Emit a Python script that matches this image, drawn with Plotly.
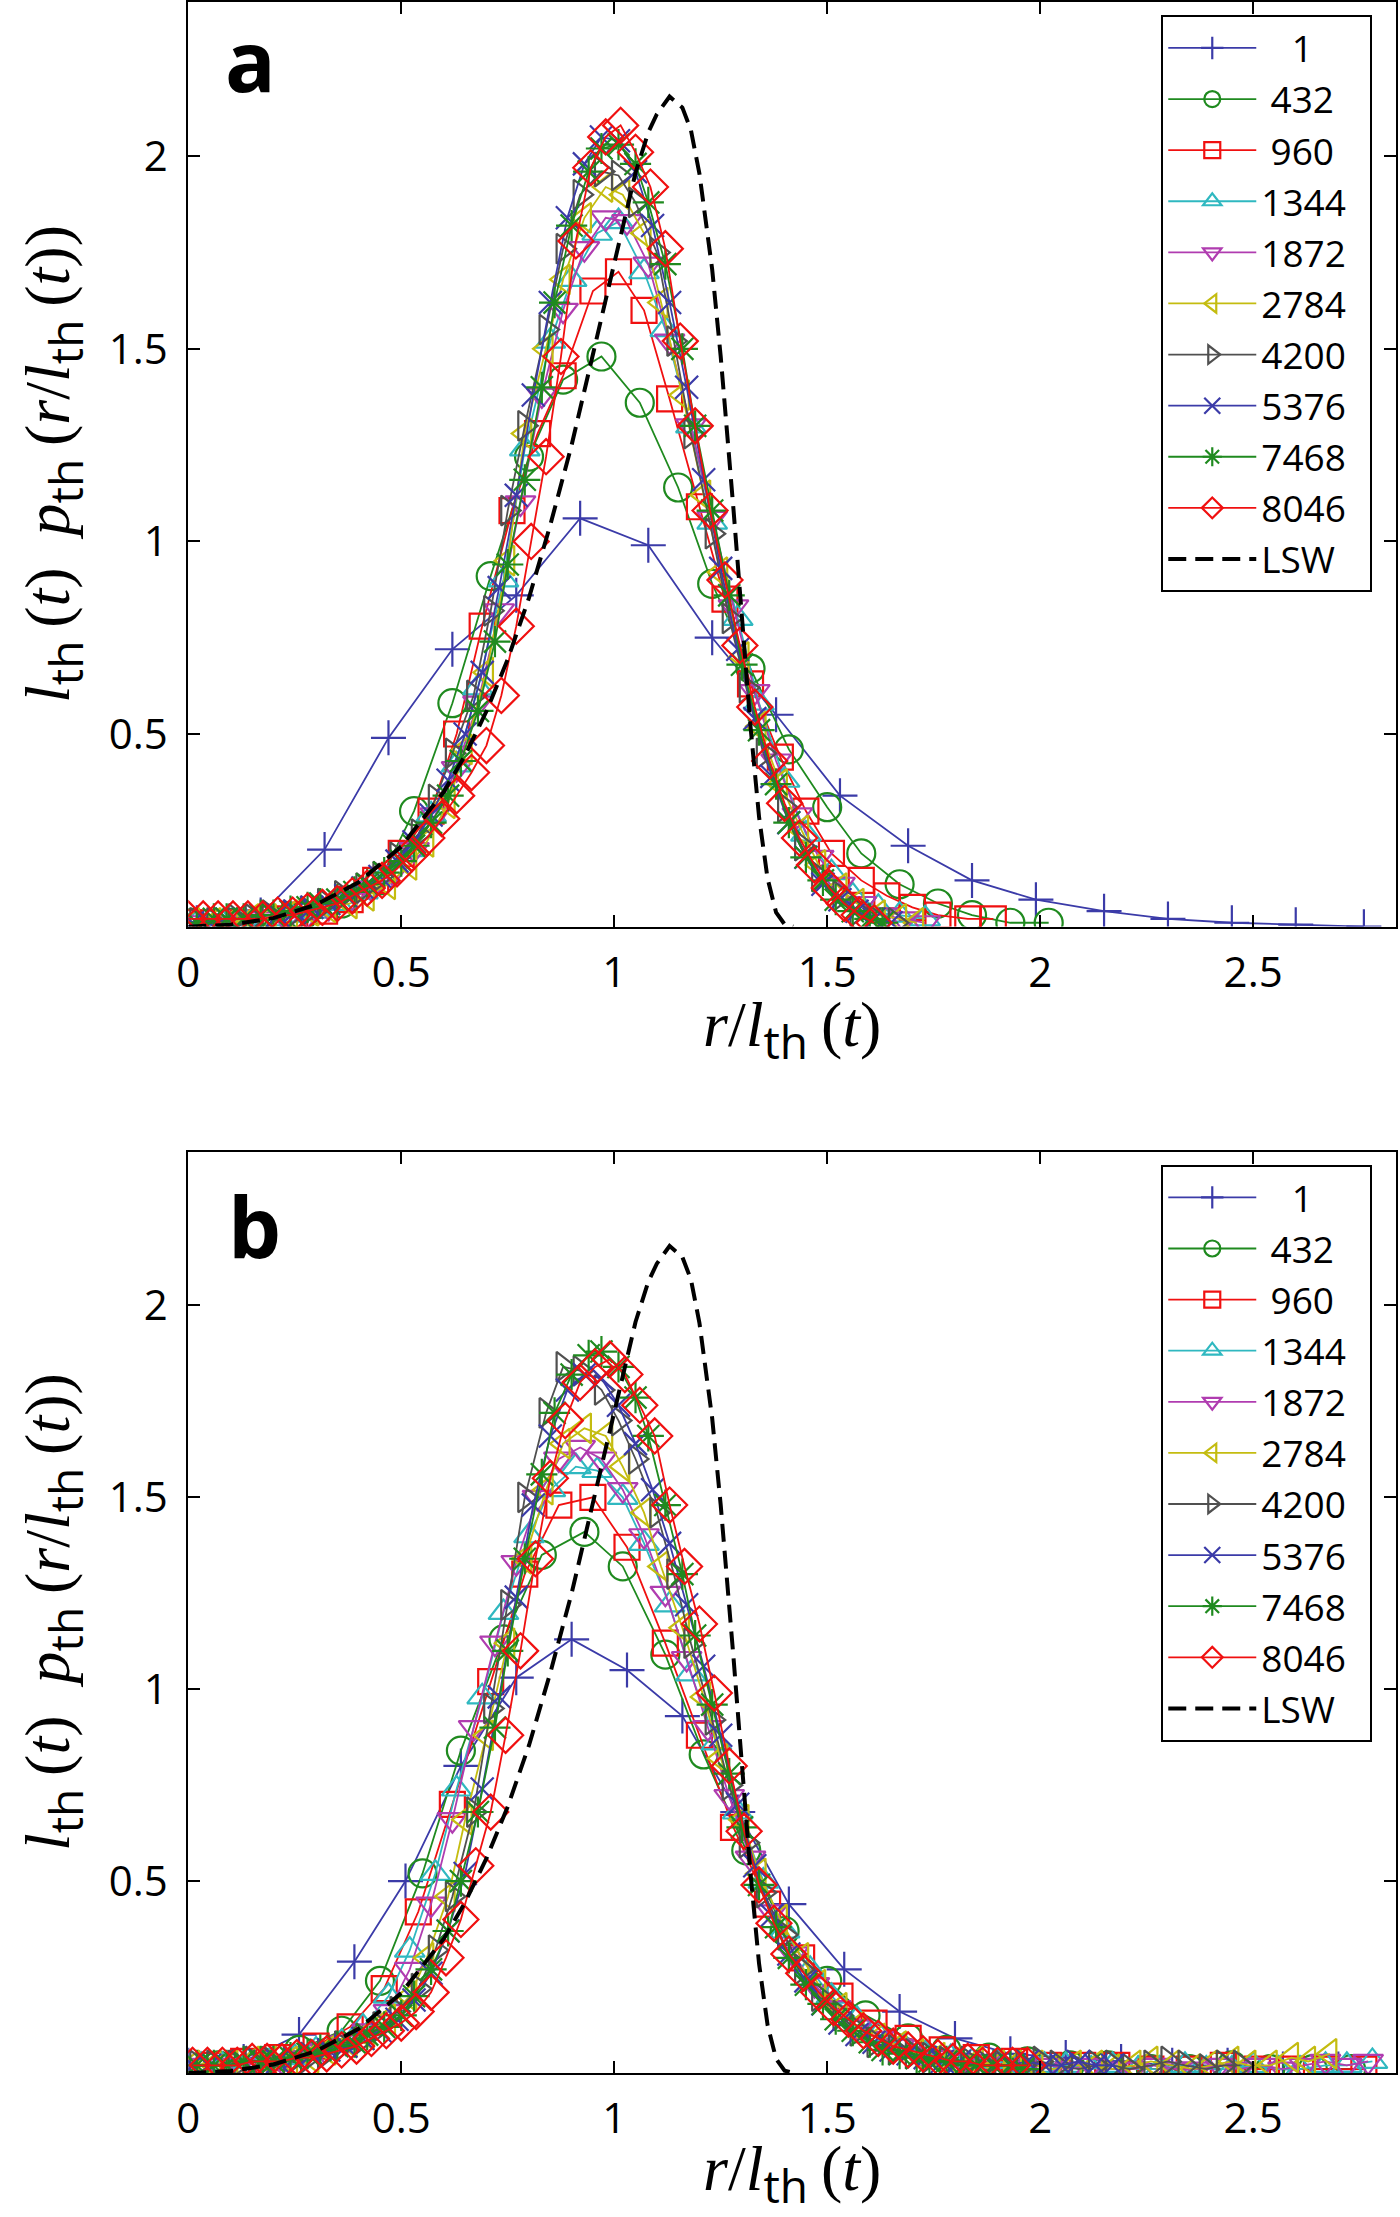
import plotly.graph_objects as go

# ---- data ----
SERIES = ["1", "432", "960", "1344", "1872", "2784", "4200", "5376", "7468", "8046"]

X_TICKS = [0, 0.5, 1, 1.5, 2, 2.5]
Y_TICKS = [0.5, 1, 1.5, 2]

# panel a
A1_X = [0.02, 0.17, 0.32, 0.47, 0.62, 0.77, 0.92, 1.08, 1.23, 1.38, 1.53, 1.69, 1.84, 1.99, 2.15, 2.30, 2.45, 2.60, 2.76]
A1_Y = [0.01, 0.03, 0.20, 0.49, 0.72, 0.86, 1.06, 0.99, 0.75, 0.55, 0.34, 0.21, 0.12, 0.07, 0.04, 0.02, 0.01, 0.005, 0.0]

A432_X = [0.01, 0.10, 0.19, 0.27, 0.36, 0.45, 0.53, 0.62, 0.71, 0.80, 0.88, 0.97, 1.06, 1.15, 1.23, 1.32, 1.41, 1.50, 1.58, 1.67,
          1.76, 1.84, 1.93, 2.02]
A432_Y = [0.01, 0.01, 0.02, 0.03, 0.06, 0.12, 0.30, 0.58, 0.91, 1.22, 1.42, 1.48, 1.36, 1.14, 0.89, 0.67, 0.46, 0.31, 0.19, 0.11,
          0.06, 0.03, 0.01, 0.01]

A960_X = [0.00, 0.06, 0.13, 0.19, 0.25, 0.32, 0.38, 0.44, 0.50, 0.57, 0.63, 0.69, 0.76, 0.82, 0.88, 0.95, 1.01, 1.07, 1.13, 1.20,
          1.26, 1.32, 1.39, 1.45, 1.51, 1.58, 1.64, 1.70, 1.76, 1.83, 1.89]
A960_Y = [0.01, 0.01, 0.01, 0.02, 0.03, 0.04, 0.07, 0.12, 0.19, 0.30, 0.50, 0.78, 1.08, 1.28, 1.43, 1.65, 1.70, 1.60, 1.37, 1.09,
          0.85, 0.63, 0.44, 0.30, 0.19, 0.12, 0.08, 0.05, 0.03, 0.02, 0.02]

A1344_X = [0.02, 0.08, 0.13, 0.19, 0.24, 0.30, 0.35, 0.41, 0.46, 0.52, 0.57, 0.63, 0.68, 0.74, 0.79, 0.85, 0.90, 0.96, 1.01, 1.07,
           1.12, 1.18, 1.23, 1.29, 1.34, 1.40, 1.45, 1.51, 1.56, 1.62, 1.67, 1.73]
A1344_Y = [0.01, 0.01, 0.02, 0.02, 0.03, 0.04, 0.06, 0.09, 0.13, 0.20, 0.29, 0.42, 0.62, 0.90, 1.24, 1.52, 1.68, 1.80, 1.83, 1.70,
           1.55, 1.30, 1.05, 0.80, 0.58, 0.38, 0.24, 0.14, 0.08, 0.05, 0.03, 0.02]

A1872_X = [0.03, 0.08, 0.13, 0.18, 0.23, 0.28, 0.33, 0.38, 0.43, 0.48, 0.53, 0.58, 0.63, 0.68, 0.73, 0.78, 0.83, 0.88, 0.93, 0.98,
           1.03, 1.08, 1.13, 1.18, 1.23, 1.28, 1.33, 1.38, 1.43, 1.48, 1.53, 1.58, 1.63, 1.68, 1.73]
A1872_Y = [0.01, 0.01, 0.01, 0.02, 0.02, 0.03, 0.05, 0.07, 0.10, 0.14, 0.20, 0.29, 0.41, 0.58, 0.82, 1.10, 1.38, 1.60, 1.76, 1.84,
           1.83, 1.72, 1.52, 1.30, 1.06, 0.83, 0.61, 0.43, 0.29, 0.18, 0.11, 0.06, 0.03, 0.02, 0.01]

A2784_X = [0.01, 0.06, 0.10, 0.15, 0.19, 0.24, 0.29, 0.33, 0.38, 0.42, 0.47, 0.52, 0.56, 0.61, 0.65, 0.70, 0.75, 0.79, 0.84, 0.88,
           0.93, 0.98, 1.02, 1.07, 1.11, 1.16, 1.21, 1.25, 1.30, 1.34, 1.39, 1.44, 1.48, 1.53, 1.57, 1.62, 1.67, 1.71]
A2784_Y = [0.01, 0.01, 0.01, 0.02, 0.02, 0.03, 0.04, 0.05, 0.06, 0.08, 0.11, 0.16, 0.22, 0.32, 0.46, 0.66, 0.95, 1.28, 1.50, 1.68,
           1.84, 1.92, 1.90, 1.80, 1.62, 1.38, 1.12, 0.92, 0.70, 0.52, 0.37, 0.25, 0.16, 0.10, 0.06, 0.03, 0.02, 0.01]

A4200_X = [0.02, 0.06, 0.11, 0.15, 0.19, 0.24, 0.28, 0.32, 0.36, 0.41, 0.45, 0.49, 0.54, 0.58, 0.62, 0.67, 0.71, 0.75, 0.79, 0.84,
           0.88, 0.92, 0.97, 1.01, 1.05, 1.10, 1.14, 1.18, 1.23, 1.27, 1.31, 1.35, 1.40, 1.44, 1.48, 1.53, 1.57, 1.61, 1.66]
A4200_Y = [0.01, 0.01, 0.02, 0.02, 0.03, 0.03, 0.04, 0.06, 0.08, 0.10, 0.13, 0.18, 0.24, 0.33, 0.45, 0.60, 0.82, 1.08, 1.30, 1.55,
           1.76, 1.90, 1.96, 1.95, 1.88, 1.75, 1.52, 1.28, 1.02, 0.80, 0.62, 0.45, 0.31, 0.21, 0.13, 0.08, 0.04, 0.02, 0.01]

A5376_X = [0.01, 0.05, 0.09, 0.13, 0.17, 0.21, 0.25, 0.29, 0.33, 0.37, 0.41, 0.45, 0.49, 0.53, 0.57, 0.61, 0.65, 0.69, 0.73, 0.77,
           0.81, 0.85, 0.89, 0.93, 0.97, 1.01, 1.05, 1.09, 1.13, 1.17, 1.21, 1.25, 1.29, 1.33, 1.37, 1.41, 1.45, 1.49, 1.53, 1.57,
           1.61, 1.65]
A5376_Y = [0.01, 0.01, 0.02, 0.02, 0.03, 0.03, 0.04, 0.05, 0.06, 0.08, 0.10, 0.13, 0.17, 0.22, 0.29, 0.38, 0.50, 0.66, 0.88, 1.12,
           1.38, 1.62, 1.84, 1.98, 2.05, 2.04, 1.96, 1.82, 1.62, 1.40, 1.16, 0.93, 0.72, 0.54, 0.39, 0.27, 0.18, 0.11, 0.07, 0.04,
           0.02, 0.01]

A7468_X = [0.02, 0.06, 0.09, 0.13, 0.17, 0.20, 0.24, 0.28, 0.31, 0.35, 0.39, 0.42, 0.46, 0.50, 0.53, 0.57, 0.61, 0.64, 0.68, 0.72,
           0.75, 0.79, 0.83, 0.86, 0.90, 0.94, 0.97, 1.01, 1.05, 1.08, 1.12, 1.16, 1.19, 1.23, 1.27, 1.30, 1.34, 1.38, 1.41, 1.45,
           1.49, 1.52, 1.56, 1.60, 1.63]
A7468_Y = [0.01, 0.02, 0.02, 0.02, 0.03, 0.03, 0.04, 0.05, 0.06, 0.07, 0.09, 0.11, 0.14, 0.17, 0.21, 0.27, 0.34, 0.43, 0.56, 0.74,
           0.94, 1.16, 1.40, 1.62, 1.82, 1.96, 2.02, 2.03, 1.98, 1.88, 1.72, 1.50, 1.30, 1.08, 0.86, 0.68, 0.51, 0.37, 0.27, 0.18,
           0.12, 0.07, 0.04, 0.02, 0.01]

A8046_X = [0.00, 0.035, 0.07, 0.105, 0.14, 0.175, 0.21, 0.245, 0.28, 0.315, 0.35, 0.385, 0.42, 0.455, 0.49, 0.525, 0.56, 0.595,
           0.63, 0.665, 0.70, 0.735, 0.77, 0.805, 0.84, 0.875, 0.91, 0.945, 0.98, 1.015, 1.05, 1.085, 1.12, 1.155, 1.19, 1.225,
           1.26, 1.295, 1.33, 1.365, 1.40, 1.435, 1.47, 1.505, 1.54, 1.575, 1.61]
A8046_Y = [0.02, 0.02, 0.02, 0.02, 0.02, 0.02, 0.03, 0.03, 0.04, 0.05, 0.06, 0.08, 0.10, 0.12, 0.15, 0.19, 0.23, 0.28,
           0.34, 0.40, 0.47, 0.60, 0.78, 1.00, 1.22, 1.48, 1.78, 1.97, 2.05, 2.08, 2.01, 1.92, 1.76, 1.52, 1.30, 1.08,
           0.90, 0.73, 0.57, 0.43, 0.32, 0.23, 0.16, 0.10, 0.06, 0.03, 0.01]

# panel b
B1_X = [0.00, 0.13, 0.26, 0.39, 0.51, 0.64, 0.77, 0.90, 1.03, 1.16, 1.29, 1.41, 1.54, 1.67, 1.80, 1.93, 2.06, 2.19, 2.31, 2.44,
        2.57, 2.70]
B1_Y = [0.02, 0.03, 0.10, 0.29, 0.50, 0.80, 1.03, 1.13, 1.05, 0.93, 0.68, 0.44, 0.27, 0.16, 0.09, 0.05, 0.04, 0.03, 0.02, 0.02,
        0.01, 0.01]

B432_X = [0.07, 0.17, 0.26, 0.36, 0.45, 0.55, 0.64, 0.74, 0.83, 0.93, 1.02, 1.12, 1.21, 1.31, 1.40, 1.50, 1.59, 1.69, 1.78, 1.88,
          1.97, 2.07, 2.16, 2.26, 2.35, 2.45, 2.54, 2.64, 2.73]
B432_Y = [0.02, 0.03, 0.06, 0.11, 0.24, 0.52, 0.84, 1.13, 1.35, 1.41, 1.32, 1.09, 0.83, 0.58, 0.37, 0.24, 0.15, 0.09, 0.06, 0.04,
          0.03, 0.02, 0.02, 0.01, 0.01, 0.02, 0.01, 0.01, 0.01]

B960_X = [0.05, 0.13, 0.21, 0.30, 0.38, 0.46, 0.54, 0.62, 0.71, 0.79, 0.87, 0.95, 1.03, 1.12, 1.20, 1.28, 1.36, 1.44, 1.53, 1.61,
          1.69, 1.77, 1.85, 1.94, 2.02, 2.10, 2.18, 2.26, 2.35, 2.43, 2.51, 2.59, 2.67, 2.76]
B960_Y = [0.02, 0.03, 0.04, 0.07, 0.12, 0.22, 0.42, 0.70, 1.02, 1.30, 1.48, 1.50, 1.37, 1.12, 0.88, 0.64, 0.44, 0.30, 0.20, 0.13,
          0.09, 0.06, 0.04, 0.03, 0.02, 0.02, 0.02, 0.01, 0.01, 0.02, 0.01, 0.01, 0.01, 0.01]

B1344_X = [0.03, 0.08, 0.14, 0.19, 0.25, 0.30, 0.36, 0.41, 0.47, 0.52, 0.58, 0.63, 0.69, 0.74, 0.80, 0.85, 0.91, 0.96, 1.02, 1.07,
           1.13, 1.18, 1.24, 1.29, 1.35, 1.40, 1.46, 1.51, 1.57, 1.62, 1.68, 1.73, 1.79, 1.84, 1.90, 1.95, 2.01, 2.06, 2.12, 2.17,
           2.23, 2.28, 2.34, 2.39, 2.45, 2.50, 2.56, 2.61, 2.67, 2.72, 2.78]
B1344_Y = [0.02, 0.02, 0.03, 0.03, 0.04, 0.06, 0.08, 0.12, 0.20, 0.32, 0.52, 0.74, 0.98, 1.20, 1.40, 1.52, 1.58, 1.57, 1.50, 1.38,
           1.22, 1.04, 0.86, 0.68, 0.50, 0.37, 0.27, 0.20, 0.14, 0.10, 0.07, 0.05, 0.04, 0.03, 0.03, 0.02, 0.02, 0.02, 0.01, 0.02,
           0.01, 0.01, 0.02, 0.01, 0.01, 0.02, 0.01, 0.01, 0.02, 0.02, 0.03]

B1872_X = [0.02, 0.07, 0.12, 0.17, 0.22, 0.27, 0.32, 0.37, 0.42, 0.47, 0.52, 0.57, 0.62, 0.67, 0.72, 0.77, 0.82, 0.87, 0.92, 0.97,
           1.02, 1.07, 1.12, 1.17, 1.22, 1.27, 1.32, 1.37, 1.42, 1.47, 1.52, 1.57, 1.62, 1.67, 1.72, 1.77, 1.82, 1.87, 1.92, 1.97,
           2.02, 2.07, 2.12, 2.17, 2.22, 2.27, 2.32, 2.37, 2.42, 2.47, 2.52, 2.57, 2.62, 2.67, 2.72, 2.77]
B1872_Y = [0.02, 0.02, 0.02, 0.03, 0.03, 0.04, 0.06, 0.08, 0.11, 0.16, 0.27, 0.44, 0.66, 0.90, 1.12, 1.33, 1.50, 1.60, 1.63, 1.60,
           1.52, 1.40, 1.25, 1.08, 0.90, 0.72, 0.56, 0.42, 0.31, 0.23, 0.17, 0.12, 0.09, 0.07, 0.05, 0.04, 0.03, 0.03, 0.02, 0.02,
           0.02, 0.01, 0.02, 0.01, 0.01, 0.02, 0.01, 0.01, 0.02, 0.01, 0.02, 0.01, 0.02, 0.03, 0.02, 0.03]

B2784_X = [0.01, 0.06, 0.10, 0.15, 0.19, 0.24, 0.29, 0.33, 0.38, 0.42, 0.47, 0.52, 0.56, 0.61, 0.65, 0.70, 0.75, 0.79, 0.84, 0.88,
           0.93, 0.98, 1.02, 1.07, 1.11, 1.16, 1.21, 1.25, 1.30, 1.34, 1.39, 1.44, 1.48, 1.53, 1.57, 1.62, 1.67, 1.71, 1.76, 1.80,
           1.85, 1.90, 1.94, 1.99, 2.03, 2.08, 2.13, 2.17, 2.22, 2.26, 2.31, 2.36, 2.40, 2.45, 2.49, 2.54, 2.59, 2.63, 2.68]
B2784_Y = [0.02, 0.02, 0.02, 0.03, 0.03, 0.03, 0.04, 0.06, 0.08, 0.10, 0.14, 0.20, 0.30, 0.46, 0.66, 0.88, 1.12, 1.34, 1.52, 1.64,
           1.68, 1.66, 1.58, 1.46, 1.32, 1.16, 0.98, 0.82, 0.66, 0.52, 0.40, 0.30, 0.23, 0.17, 0.12, 0.09, 0.07, 0.05, 0.04, 0.03,
           0.03, 0.02, 0.02, 0.02, 0.01, 0.02, 0.02, 0.01, 0.02, 0.03, 0.02, 0.01, 0.02, 0.03, 0.02, 0.02, 0.04, 0.03, 0.05]

B4200_X = [0.02, 0.06, 0.11, 0.15, 0.19, 0.24, 0.28, 0.32, 0.36, 0.41, 0.45, 0.49, 0.54, 0.58, 0.62, 0.67, 0.71, 0.75, 0.79, 0.84,
           0.88, 0.92, 0.97, 1.01, 1.05, 1.10, 1.14, 1.18, 1.23, 1.27, 1.31, 1.35, 1.40, 1.44, 1.48, 1.53, 1.57, 1.61, 1.66, 1.70,
           1.74, 1.78, 1.83, 1.87, 1.91, 1.96, 2.00, 2.04, 2.09, 2.13, 2.17, 2.21, 2.26, 2.30, 2.34, 2.39, 2.43, 2.47]
B4200_Y = [0.02, 0.02, 0.02, 0.03, 0.03, 0.03, 0.04, 0.05, 0.07, 0.09, 0.12, 0.16, 0.22, 0.32, 0.46, 0.68, 0.95, 1.22, 1.50, 1.72,
           1.84, 1.83, 1.78, 1.70, 1.60, 1.46, 1.30, 1.12, 0.92, 0.75, 0.60, 0.47, 0.36, 0.27, 0.20, 0.15, 0.11, 0.08, 0.06, 0.05,
           0.04, 0.03, 0.03, 0.02, 0.02, 0.02, 0.03, 0.02, 0.01, 0.02, 0.02, 0.01, 0.02, 0.03, 0.02, 0.01, 0.02, 0.02]

B5376_X = [0.01, 0.05, 0.09, 0.13, 0.17, 0.21, 0.25, 0.29, 0.33, 0.37, 0.41, 0.45, 0.49, 0.53, 0.57, 0.61, 0.65, 0.69, 0.73, 0.77,
           0.81, 0.85, 0.89, 0.93, 0.97, 1.01, 1.05, 1.09, 1.13, 1.17, 1.21, 1.25, 1.29, 1.33, 1.37, 1.41, 1.45, 1.49, 1.53, 1.57,
           1.61, 1.65, 1.69, 1.73, 1.77, 1.81, 1.85, 1.89, 1.93, 1.97, 2.01, 2.05, 2.09, 2.13, 2.17]
B5376_Y = [0.02, 0.02, 0.02, 0.03, 0.03, 0.03, 0.04, 0.05, 0.06, 0.07, 0.09, 0.11, 0.14, 0.19, 0.26, 0.37, 0.52, 0.74, 0.98, 1.24,
           1.48, 1.66, 1.78, 1.82, 1.81, 1.74, 1.64, 1.52, 1.38, 1.22, 1.06, 0.88, 0.70, 0.54, 0.41, 0.31, 0.24, 0.18, 0.13, 0.10,
           0.08, 0.06, 0.05, 0.04, 0.03, 0.03, 0.02, 0.02, 0.02, 0.03, 0.02, 0.02, 0.03, 0.02, 0.02]

B7468_X = [0.02, 0.06, 0.09, 0.13, 0.17, 0.20, 0.24, 0.28, 0.31, 0.35, 0.39, 0.42, 0.46, 0.50, 0.53, 0.57, 0.61, 0.64, 0.68, 0.72,
           0.75, 0.79, 0.83, 0.86, 0.90, 0.94, 0.97, 1.01, 1.05, 1.08, 1.12, 1.16, 1.19, 1.23, 1.27, 1.30, 1.34, 1.38, 1.41, 1.45,
           1.49, 1.52, 1.56, 1.60, 1.63, 1.67, 1.71, 1.74, 1.78, 1.82, 1.85, 1.89, 1.93, 1.96]
B7468_Y = [0.02, 0.02, 0.02, 0.03, 0.03, 0.03, 0.04, 0.05, 0.06, 0.07, 0.08, 0.10, 0.12, 0.15, 0.20, 0.27, 0.37, 0.50, 0.68, 0.90,
           1.10, 1.34, 1.56, 1.72, 1.82, 1.87, 1.88, 1.84, 1.76, 1.66, 1.48, 1.30, 1.14, 0.96, 0.78, 0.64, 0.49, 0.38, 0.30, 0.23,
           0.18, 0.14, 0.11, 0.08, 0.06, 0.05, 0.04, 0.03, 0.03, 0.02, 0.02, 0.02, 0.02, 0.01]

B8046_X = [0.01, 0.045, 0.08, 0.115, 0.15, 0.185, 0.22, 0.255, 0.29, 0.325, 0.36, 0.395, 0.43, 0.465, 0.50, 0.535, 0.57, 0.605,
           0.64, 0.675, 0.71, 0.745, 0.78, 0.815, 0.85, 0.885, 0.92, 0.955, 0.99, 1.025, 1.06, 1.095, 1.13, 1.165, 1.20, 1.235,
           1.27, 1.305, 1.34, 1.375, 1.41, 1.445, 1.48, 1.515, 1.55, 1.585, 1.62, 1.655, 1.69, 1.725, 1.76, 1.795, 1.83, 1.865,
           1.90, 1.935, 1.97]
B8046_Y = [0.02, 0.02, 0.02, 0.02, 0.03, 0.03, 0.03, 0.04, 0.04, 0.05, 0.06, 0.07, 0.09, 0.11, 0.13, 0.16, 0.21, 0.30,
           0.40, 0.54, 0.68, 0.88, 1.10, 1.34, 1.55, 1.70, 1.80, 1.84, 1.86, 1.82, 1.74, 1.66, 1.48, 1.32, 1.17, 0.99,
           0.80, 0.63, 0.49, 0.39, 0.31, 0.26, 0.21, 0.17, 0.14, 0.11, 0.09, 0.07, 0.06, 0.05, 0.04, 0.03, 0.03, 0.02,
           0.02, 0.02, 0.02]

# LSW curve, same in both panels
LSW_X = [0.0, 0.1, 0.2, 0.3, 0.4, 0.5, 0.6, 0.65, 0.7, 0.75, 0.8, 0.85, 0.9, 0.95, 1.0, 1.05, 1.08, 1.1, 1.13, 1.16,
         1.18, 1.2, 1.23, 1.25, 1.28, 1.3, 1.32, 1.34, 1.36, 1.38, 1.4, 1.42]
LSW_Y = [0.0, 0.005, 0.022, 0.057, 0.115, 0.208, 0.35, 0.445, 0.559, 0.694, 0.854, 1.043, 1.25, 1.487, 1.72, 1.957, 2.062,
         2.109, 2.155, 2.126, 2.068, 1.955, 1.706, 1.48, 1.083, 0.789, 0.519, 0.285, 0.125, 0.037, 0.006, 0.0]

A_DATA = {"1": (A1_X, A1_Y), "432": (A432_X, A432_Y), "960": (A960_X, A960_Y), "1344": (A1344_X, A1344_Y),
          "1872": (A1872_X, A1872_Y), "2784": (A2784_X, A2784_Y), "4200": (A4200_X, A4200_Y),
          "5376": (A5376_X, A5376_Y), "7468": (A7468_X, A7468_Y), "8046": (A8046_X, A8046_Y)}
B_DATA = {"1": (B1_X, B1_Y), "432": (B432_X, B432_Y), "960": (B960_X, B960_Y), "1344": (B1344_X, B1344_Y),
          "1872": (B1872_X, B1872_Y), "2784": (B2784_X, B2784_Y), "4200": (B4200_X, B4200_Y),
          "5376": (B5376_X, B5376_Y), "7468": (B7468_X, B7468_Y), "8046": (B8046_X, B8046_Y)}

# ---- styles ----
COLORS = {"1": "#3b3ba8", "432": "#1f8a1f", "960": "#f01010", "1344": "#2fb8c0", "1872": "#b03cb0",
          "2784": "#c4bc10", "4200": "#505050", "5376": "#3b3ba8", "7468": "#1f8a1f", "8046": "#f01010"}
SYMBOLS = {"1": "cross-thin-open", "432": "circle-open", "960": "square-open", "1344": "triangle-up-open",
           "1872": "triangle-down-open", "2784": "triangle-left-open", "4200": "triangle-right-open",
           "5376": "x-thin-open", "7468": "asterisk-open", "8046": "diamond-open"}
SIZES = {"1": 25, "432": 28, "960": 25, "1344": 26, "1872": 26, "2784": 26, "4200": 26,
         "5376": 23, "7468": 26, "8046": 27}
# pad so the labels sit like in the original legend
PAD = {"1": "\u2007\u2005", "432": "\u2005", "960": "\u2005"}

SANS = "Open Sans"
SERIF = "Liberation Serif"

fig = go.Figure()

panels = [("x", "y", "legend", A_DATA), ("x2", "y2", "legend2", B_DATA)]
for xa, ya, leg, data in panels:
    for name in SERIES:
        xs, ys = data[name]
        fig.add_trace(go.Scatter(
            x=xs, y=ys, xaxis=xa, yaxis=ya, legend=leg,
            name=PAD.get(name, "") + name + "\u2002",
            mode="lines+markers",
            line=dict(color=COLORS[name], width=1.8),
            marker=dict(symbol=SYMBOLS[name], size=SIZES[name], color=COLORS[name],
                        line=dict(color=COLORS[name], width=2.2)),
            ))
    fig.add_trace(go.Scatter(
        x=LSW_X, y=LSW_Y, xaxis=xa, yaxis=ya, legend=leg, name="LSW\u2002", mode="lines",
        line=dict(color="black", width=4, dash="18px,9px"),
        ))

axis_style = dict(showline=True, linecolor="black", linewidth=2, mirror="ticks",
                  ticks="inside", ticklen=12, tickwidth=2, tickcolor="black",
                  showgrid=False, zeroline=False,
                  tickfont=dict(family=SANS, size=42, color="black"))

fig.update_layout(
    width=1400, height=2217, autosize=False,
    margin=dict(l=0, r=0, t=0, b=0),
    paper_bgcolor="white", plot_bgcolor="white",
    xaxis=dict(domain=[0.127, 0.997], anchor="y", range=[0, 2.835], tickvals=X_TICKS,
               ticklabelstandoff=8, **axis_style),
    yaxis=dict(domain=[0.5823, 0.9995], anchor="x", range=[0, 2.4], tickvals=Y_TICKS,
               ticklabelstandoff=10, **axis_style),
    xaxis2=dict(domain=[0.127, 0.997], anchor="y2", range=[0, 2.835], tickvals=X_TICKS,
                ticklabelstandoff=8, **axis_style),
    yaxis2=dict(domain=[0.065, 0.4806], anchor="x2", range=[0, 2.4], tickvals=Y_TICKS,
                ticklabelstandoff=10, **axis_style),
    showlegend=True,
)

legend_style = dict(x=0.828, xanchor="left", yanchor="top", bgcolor="white",
                    bordercolor="black", borderwidth=2, itemwidth=88,
                    font=dict(family=SANS, size=37, color="black"))
fig.update_layout(legend=dict(y=0.9935, **legend_style),
                  legend2=dict(y=0.4748, **legend_style))

SUB = "<sub><span style='font-family:Open Sans;font-size:46px'>th</span></sub>\u2009"
Y_TITLE = ("<i>l</i>" + SUB + "(<i>t</i>)  <i>p</i>" + SUB + "(<i>r</i>/<i>l</i>" + SUB + "(<i>t</i>))")
X_TITLE = "<i>r</i>/<i>l</i>" + SUB + "(<i>t</i>)"

annotations = []
for letter, lx, ly, ty, tx in [("a", 0.172, 0.9738, 0.7909, 0.5354), ("b", 0.175, 0.4475, 0.2728, 0.019)]:
    annotations.append(dict(text="<b>" + letter + "</b>", x=lx, y=ly, xref="paper", yref="paper",
                            xanchor="center", yanchor="middle",
                            showarrow=False, font=dict(family=SANS, size=84, color="black")))
    annotations.append(dict(text=Y_TITLE, x=0.03, y=ty, xref="paper", yref="paper", textangle=-90,
                            xanchor="center", yanchor="middle",
                            showarrow=False, font=dict(family=SERIF, size=64, color="black")))
    annotations.append(dict(text=X_TITLE, x=0.562, y=tx, xref="paper", yref="paper",
                            xanchor="center", yanchor="middle",
                            showarrow=False, font=dict(family=SERIF, size=64, color="black")))
fig.update_layout(annotations=annotations)

# the default page has an 8px body margin; drop it so the figure sits at the corner
fig.write_html("out.html", config={"displayModeBar": False},
               post_script="document.body.style.margin='0px';")
